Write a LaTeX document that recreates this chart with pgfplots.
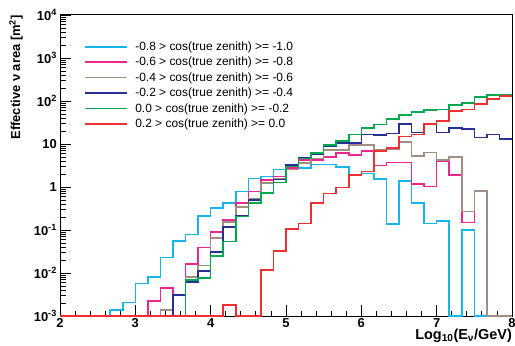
\documentclass[border=0pt]{standalone}
\usepackage{fontspec}
\setmainfont{Liberation Sans}
\usepackage{pgfplots}
\usepackage{pgfplotstable}
\pgfplotsset{compat=1.18}
\definecolor{cCyan}{RGB}{20,182,236}
\definecolor{cMag}{RGB}{236,40,142}
\definecolor{cGray}{RGB}{160,142,130}
\definecolor{cBlue}{RGB}{40,48,150}
\definecolor{cGreen}{RGB}{0,168,80}
\definecolor{cRed}{RGB}{238,48,48}

\pgfplotstableread{
x        c       m       g       b       gr      r
2        0.001   0.001   0.001   0.001   0.001   0.001
2.16667  0.001   0.001   0.001   0.001   0.001   0.001
2.33333  0.001   0.001   0.001   0.001   0.001   0.001
2.5      0.001   0.001   0.001   0.001   0.001   0.001
2.66667  0.00138 0.001   0.001   0.001   0.001   0.001
2.83333  0.00208 0.001   0.001   0.001   0.001   0.001
3        0.00575 0.001   0.001   0.001   0.001   0.001
3.16667  0.0082  0.00223 0.001   0.001   0.001   0.001
3.33333  0.0227  0.00441 0.00138 0.001   0.001   0.001
3.5      0.0564  0.001   0.001   0.00308 0.001   0.001
3.66667  0.0794  0.0162  0.0082  0.00618 0.00687 0.001
3.83333  0.215   0.0396  0.0148  0.0111  0.00766 0.001
4        0.320   0.0913  0.0652  0.0308  0.0249  0.001
4.16667  0.418   0.171   0.153   0.117   0.0546  0.0018
4.33333  0.778   0.431   0.348   0.212   0.204   0.001
4.5      1.59    0.778   0.546   0.499   0.431   0.001
4.66667  1.74    1.45    1.22    0.737   0.737   0.0117
4.83333  2.58    1.74    1.59    1.51    1.26    0.0325
5        2.58    2.81    2.55    3.25    2.97    0.104
5.16667  2.77    4.25    3.56    4.80    4.65    0.143
5.33333  3.37    4.25    4.65    5.76    6.08    0.431
5.5      3.37    4.99    7.25    8.75    9.33    0.713
5.66667  2.92    6.08    7.25    10.7    11.7    0.964
5.83333  1.90    5.55    9.48    10.7    16.8    1.90
6        2.08    6.87    9.48    16.8    23.2    2.29
6.16667  1.53    3.13    7.25    16.2    28.7    6.87
6.33333  0.138   3.71    7.65    17.5    38.7    8.07
6.5      1.40    3.71    11.1    29.5    47.2    15.1
6.66667  0.418   1.16    5.26    18.5    55.5    16.6
6.83333  0.143   1.02    6.28    30.3    61.8    29.2
7        0.164   4.03    4.25    18.7    64.1    34.8
7.16667  0.001   1.90    4.91    23.9    80.7    58.5
7.33333  0.1     0.148   0.267   22.0    91.3    64.1
7.5      0.001   0.778   0.807   14.3    122     85.2
7.66667  0.001   0.001   0.001   16.8    138     110
7.83333  0.001   0.001   0.001   13.1    143     131
8        0.001   0.001   0.001   13.1    143     131
}\data

\begin{document}
\begin{tikzpicture}
\begin{axis}[
  scale only axis, width=452bp, height=301bp,
  xmin=2, xmax=8, ymin=1e-3, ymax=1e4, ymode=log,
  xtick={2,3,4,5,6,7,8}, xticklabels={2,3,4,5,6,7,8},
  minor x tick num=4,
  ytick={1e-3,1e-2,1e-1,1,10,100,1000,10000},
  yticklabels={10\textsuperscript{-3},10\textsuperscript{-2},10\textsuperscript{-1},1,10,10\textsuperscript{2},10\textsuperscript{3},10\textsuperscript{4}},
  tick pos=left, tick align=inside,
  major tick length=11bp, minor tick length=5.5bp,
  tick style={black, line width=0.8bp},
  ticklabel style={font=\fontsize{13}{13}\selectfont\bfseries},
  xticklabel style={inner sep=0pt, yshift=-2bp},
  yticklabel style={inner sep=0pt, xshift=-3bp},
  axis line style={line width=1bp, black},
  ylabel={Effective ν area [m\textsuperscript{2}]},
  ylabel style={at={(axis description cs:-0.082,1)}, anchor=south east, inner sep=0pt, font=\fontsize{13}{13}\selectfont\bfseries},
  xlabel={Log\textsubscript{10}(E\textsubscript{ν}/GeV)},
  xlabel style={at={(axis description cs:1,0)}, anchor=north east, yshift=-13bp, inner sep=0pt, font=\fontsize{14.5}{14.5}\selectfont\bfseries},
  legend style={at={(axis description cs:0,1)}, anchor=north west, xshift=24bp, yshift=-25bp,
    draw=none, fill=none, inner sep=0pt, row sep=2.3bp,
    font=\fontsize{12}{14}\selectfont, nodes={inner sep=1.5bp}},
  legend cell align=left,
  legend image code/.code={\draw[#1, line width=1.6bp] (0bp,0bp) -- (42bp,0bp) (48bp,0bp);},
  every axis plot/.append style={const plot, line width=1.6bp, no markers},
]
\addplot[cCyan] table[x=x, y=c] {\data};
\addlegendentry{-0.8 > cos(true zenith) >= -1.0}
\addplot[cMag] table[x=x, y=m] {\data};
\addlegendentry{-0.6 > cos(true zenith) >= -0.8}
\addplot[cGray] table[x=x, y=g] {\data};
\addlegendentry{-0.4 > cos(true zenith) >= -0.6}
\addplot[cBlue] table[x=x, y=b] {\data};
\addlegendentry{-0.2 > cos(true zenith) >= -0.4}
\addplot[cGreen] table[x=x, y=gr] {\data};
\addlegendentry{0.0 > cos(true zenith) >= -0.2}
\addplot[cRed] table[x=x, y=r] {\data};
\addlegendentry{0.2 > cos(true zenith) >= 0.0}
\end{axis}
\pgfresetboundingbox
\path ([xshift=-60bp,yshift=-29bp]current axis.south west) rectangle ([xshift=3bp,yshift=15bp]current axis.north east);
\end{tikzpicture}
\end{document}
